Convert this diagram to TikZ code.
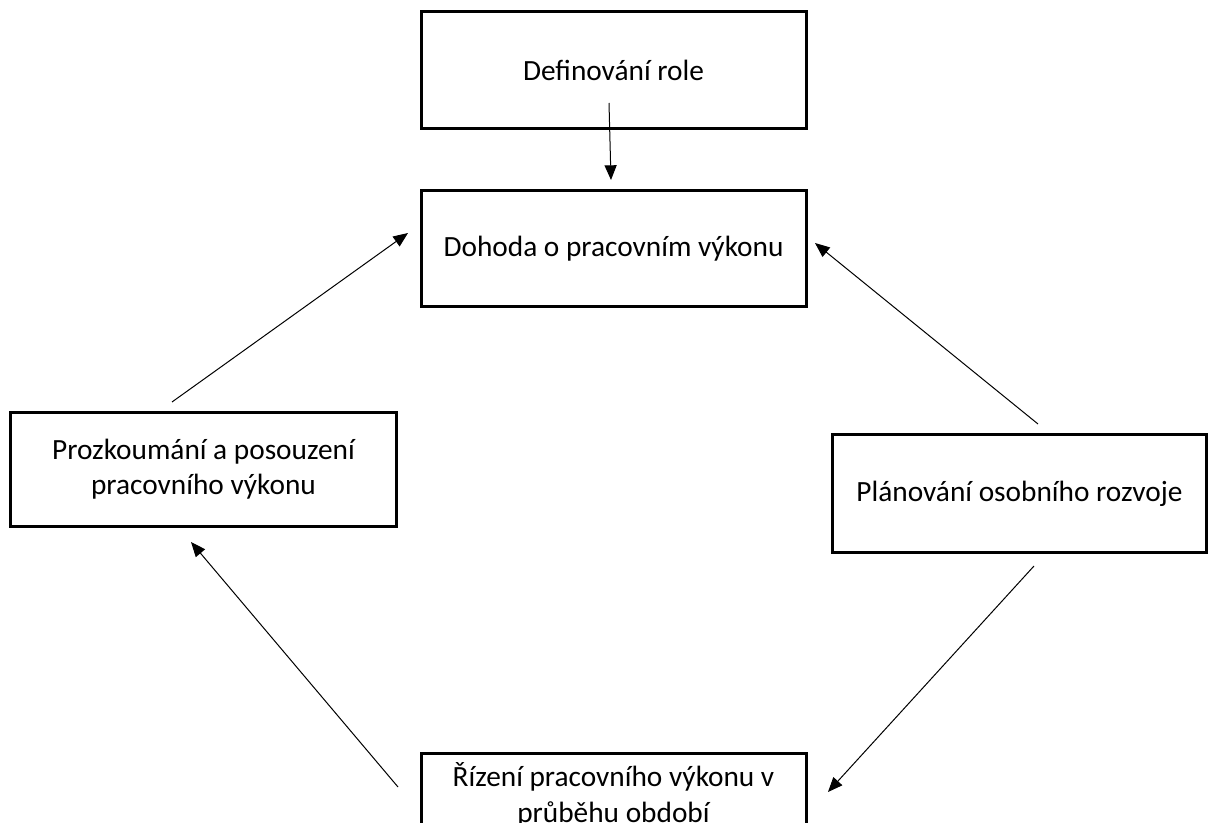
\documentclass[tikz,border=0pt]{standalone}
\usepackage{fontspec}
\setmainfont{Carlito}
\usepackage{tikz}
\usetikzlibrary{arrows.meta}

\begin{document}
\begin{tikzpicture}[x=0.75pt, y=-0.75pt,
	box/.style={draw, line width=2.25pt, align=center, inner sep=0pt, font=\fontsize{22}{26.5}\selectfont},
	flow/.style={-{Triangle[length=11pt,width=9pt]}, line width=0.75pt}]
	\useasboundingbox (0,0) rectangle (1208,823);
	%\draw[step=100, black!20!white] (0,0) grid (1208,823);
	\node[box, minimum width=288.75pt, minimum height=87.75pt] (role) at (613.5,70.5){Definování role};
	\node[box, minimum width=288.75pt, minimum height=87pt] (dohoda) at (613.5,249){Dohoda o pracovním výkonu};
	\node[box, minimum width=290pt, minimum height=86pt] (prozk) at (203.5,469.5){Prozkoumání a posouzení\\pracovního výkonu};
	\node[box, minimum width=280pt, minimum height=88pt] (plan) at (1019.5,493.5){Plánování osobního rozvoje};
	\node[box, minimum width=288.75pt, minimum height=63pt] (rizeni) at (613.5,795){Řízení pracovního výkonu v\\průběhu období};
	\coordinate (r1) at (609,103);
	\coordinate (r2) at (611,180);
	\coordinate (p1) at (172,402);
	\coordinate (p2) at (408,233);
	\coordinate (o1) at (1038,424);
	\coordinate (o2) at (815,243);
	\coordinate (o3) at (1034,566);
	\coordinate (o4) at (828,792);
	\coordinate (z1) at (398,787);
	\coordinate (z2) at (191,542);
	\draw[flow](r1)--(r2);
	\draw[flow](p1)--(p2);
	\draw[flow](o1)--(o2);
	\draw[flow](o3)--(o4);
	\draw[flow](z1)--(z2);
\end{tikzpicture}
\end{document}
